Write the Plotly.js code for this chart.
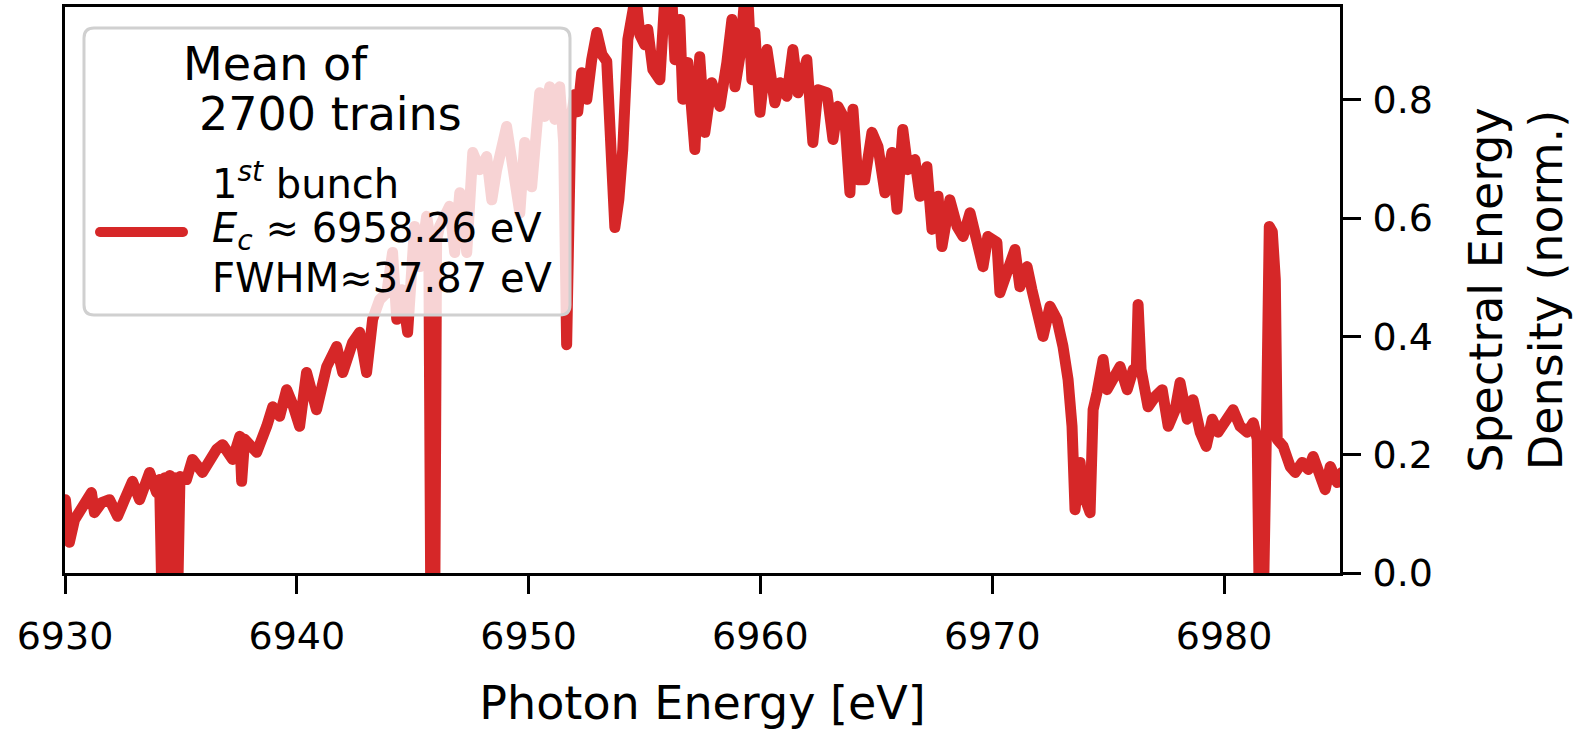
<!DOCTYPE html>
<html><head><meta charset="utf-8">
<script src="https://cdn.plot.ly/plotly-3.0.1.min.js"></script>
<style>
html,body{margin:0;padding:0;background:#fff}
#chart{width:1575px;height:734px}
path.js-line{stroke-linejoin:round!important;stroke-linecap:round!important}
.shapelayer path{stroke-linecap:round!important;stroke-linejoin:round!important}
</style>
</head><body><div id="chart"></div>
<script>
// Photon energy [eV]
const energy = [
 6930.02,6930.19,6930.41,6930.63,6930.88,6931.14,6931.27,6931.58,6931.92,6932.27,
 6932.57,6932.91,6933.22,6933.43,6933.65,6933.95,6934.08,6934.19,6934.30,6934.41,
 6934.52,6934.63,6934.74,6934.85,6934.96,6935.05,6935.24,6935.50,6935.93,6936.24,
 6936.54,6936.80,6937.23,6937.54,6937.62,6937.75,6938.27,6938.70,6938.96,6939.26,
 6939.56,6939.82,6940.12,6940.42,6940.85,6941.29,6941.72,6941.98,6942.28,6942.41,
 6942.71,6943.01,6943.27,6943.57,6943.88,6944.13,6944.31,6944.52,6944.78,6945.08,
 6945.30,6945.60,6945.69,6945.78,6945.95,6946.03,6946.16,6946.59,6946.81,6947.03,
 6947.33,6947.59,6947.89,6948.19,6948.41,6948.62,6949.05,6949.31,6949.62,6949.83,
 6950.13,6950.48,6950.69,6950.91,6951.13,6951.34,6951.51,6951.64,6951.82,6951.99,
 6952.12,6952.29,6952.51,6952.72,6952.94,6953.16,6953.37,6953.59,6953.72,6953.89,
 6954.06,6954.28,6954.45,6954.62,6954.80,6955.01,6955.14,6955.36,6955.66,6955.87,
 6956.18,6956.31,6956.52,6956.65,6956.87,6957.17,6957.38,6957.60,6957.90,6958.25,
 6958.55,6958.77,6958.90,6959.11,6959.33,6959.46,6959.63,6959.76,6959.98,6960.28,
 6960.62,6960.84,6961.14,6961.40,6961.62,6962.00,6962.26,6962.48,6962.87,6963.13,
 6963.34,6963.64,6963.86,6963.99,6964.20,6964.50,6964.81,6965.07,6965.37,6965.67,
 6965.89,6966.14,6966.36,6966.66,6966.88,6967.18,6967.40,6967.66,6967.83,6968.17,
 6968.48,6968.74,6969.04,6969.34,6969.60,6969.81,6970.20,6970.33,6970.68,6970.98,
 6971.19,6971.50,6971.71,6971.93,6972.19,6972.49,6972.79,6973.05,6973.27,6973.44,
 6973.57,6973.79,6973.91,6974.22,6974.35,6974.52,6974.78,6974.95,6975.21,6975.51,
 6975.82,6976.08,6976.21,6976.29,6976.42,6976.72,6977.02,6977.33,6977.59,6977.89,
 6978.10,6978.41,6978.66,6978.97,6979.23,6979.49,6979.74,6980.13,6980.39,6980.69,
 6981.00,6981.26,6981.43,6981.52,6981.69,6981.82,6981.95,6982.08,6982.21,6982.29,
 6982.55,6982.85,6983.07,6983.37,6983.63,6983.84,6984.15,6984.36,6984.58,6984.88,
 6985.09
];
// Spectral energy density (normalised)
const sed = [
 0.124,0.052,0.090,0.102,0.116,0.136,0.102,0.119,0.124,0.096,
 0.124,0.155,0.124,0.150,0.170,0.136,0.158,-0.062,0.161,-0.062,
 0.165,-0.062,0.161,-0.062,0.163,0.158,0.158,0.192,0.170,0.195,
 0.209,0.217,0.192,0.231,0.155,0.226,0.204,0.248,0.281,0.265,
 0.310,0.285,0.248,0.339,0.276,0.349,0.383,0.339,0.373,0.390,
 0.407,0.339,0.429,0.462,0.474,0.542,0.429,0.479,0.407,0.586,
 0.518,0.603,0.581,-0.062,-0.062,0.563,0.586,0.620,0.542,0.643,
 0.542,0.711,0.682,0.704,0.631,0.682,0.755,0.682,0.609,0.728,
 0.653,0.812,0.772,0.822,0.767,0.822,0.728,0.386,0.767,0.809,
 0.780,0.846,0.801,0.868,0.914,0.877,0.865,0.687,0.584,0.631,
 0.716,0.902,0.961,0.978,0.910,0.893,0.919,0.851,0.834,0.970,
 0.970,0.868,0.936,0.801,0.863,0.716,0.873,0.745,0.829,0.789,
 0.863,0.936,0.822,0.873,0.978,0.970,0.834,0.914,0.779,0.885,
 0.795,0.829,0.806,0.885,0.812,0.868,0.728,0.817,0.812,0.733,
 0.789,0.767,0.643,0.784,0.665,0.665,0.745,0.721,0.643,0.711,
 0.615,0.750,0.682,0.699,0.637,0.687,0.581,0.637,0.552,0.631,
 0.586,0.569,0.609,0.564,0.518,0.569,0.559,0.474,0.518,0.547,
 0.484,0.518,0.479,0.440,0.400,0.451,0.429,0.383,0.327,0.248,
 0.107,0.187,0.136,0.102,0.276,0.305,0.361,0.310,0.332,0.349,
 0.310,0.344,0.341,0.454,0.344,0.281,0.298,0.310,0.248,0.276,
 0.322,0.260,0.293,0.238,0.214,0.260,0.238,0.265,0.276,0.248,
 0.238,0.254,0.226,-0.062,-0.062,0.226,0.586,0.577,0.496,0.226,
 0.214,0.180,0.170,0.187,0.175,0.197,0.170,0.141,0.180,0.153,
 0.170
];
const xTickVals = [6930, 6940, 6950, 6960, 6970, 6980];
const yTickVals = [0.0, 0.2, 0.4, 0.6, 0.8];
const yTickText = ['0.0', '0.2', '0.4', '0.6', '0.8'];
const legendTitleLines = ['Mean of', '2700 trains'];
const legendEntryLines = ['1<sup><i>st</i></sup> bunch', '<i>E</i><sub><i>c</i></sub> ≈ 6958.26 eV', 'FWHM≈37.87 eV'];
const lineColor = '#d62728';

const W = 1575, H = 734, M = {l: 65, r: 235, t: 7, b: 161};
const pw = W - M.l - M.r, ph = H - M.t - M.b;
const PX = px => (px - M.l) / pw;
const PY = py => (H - M.b - py) / ph;
const FONT = 'DejaVu Sans, sans-serif';

function roundRect(x0, y0, x1, y1, r) {
  const p = (x, y) => PX(x).toFixed(5) + ',' + PY(y).toFixed(5);
  return 'M' + p(x0 + r, y0) + ' L' + p(x1 - r, y0) + ' Q' + p(x1, y0) + ' ' + p(x1, y0 + r) +
    ' L' + p(x1, y1 - r) + ' Q' + p(x1, y1) + ' ' + p(x1 - r, y1) +
    ' L' + p(x0 + r, y1) + ' Q' + p(x0, y1) + ' ' + p(x0, y1 - r) +
    ' L' + p(x0, y0 + r) + ' Q' + p(x0, y0) + ' ' + p(x0 + r, y0) + ' Z';
}

const trace = {
  x: energy, y: sed, type: 'scatter', mode: 'lines',
  line: {color: lineColor, width: 11},
  name: legendEntryLines.join('<br>'), showlegend: false, hoverinfo: 'skip'
};

const annotations = [];
const titleX = [181, 197];
const titleY = [64, 114];
legendTitleLines.forEach((t, i) => annotations.push({
  text: t, xref: 'paper', yref: 'paper', x: PX(titleX[i]), y: PY(titleY[i]),
  xanchor: 'left', yanchor: 'middle', showarrow: false,
  font: {family: FONT, size: 46, color: '#000'}
}));
const entryY = [181, 231, 278];
legendEntryLines.forEach((t, i) => annotations.push({
  text: t, xref: 'paper', yref: 'paper', x: PX(210), y: PY(entryY[i]),
  xanchor: 'left', yanchor: 'middle', showarrow: false,
  font: {family: FONT, size: 40, color: '#000'}
}));

const layout = {
  width: W, height: H,
  margin: M,
  paper_bgcolor: '#fff', plot_bgcolor: '#fff',
  font: {family: FONT, color: '#000'},
  showlegend: false,
  xaxis: {
    range: [6930, 6985], tickmode: 'array', tickvals: xTickVals,
    ticks: 'outside', ticklen: 18, tickwidth: 3, tickcolor: '#000',
    ticklabelstandoff: 9,
    showline: true, linecolor: '#000', linewidth: 3, mirror: true,
    showgrid: false, zeroline: false,
    tickfont: {family: FONT, size: 38, color: '#000'},
    title: {text: 'Photon Energy [eV]', font: {family: FONT, size: 46, color: '#000'}, standoff: 31}
  },
  yaxis: {
    range: [0, 0.957], side: 'right', tickmode: 'array', tickvals: yTickVals, ticktext: yTickText,
    ticks: 'outside', ticklen: 18, tickwidth: 3, tickcolor: '#000',
    ticklabelstandoff: 4,
    showline: true, linecolor: '#000', linewidth: 3, mirror: true,
    showgrid: false, zeroline: false,
    tickfont: {family: FONT, size: 38, color: '#000'},
    title: {text: 'Spectral Energy<br>Density (norm.)', font: {family: FONT, size: 46, color: '#000'}, standoff: 38}
  },
  shapes: [
    {type: 'path', xref: 'paper', yref: 'paper', layer: 'above',
     path: roundRect(84, 28, 570, 315, 10),
     fillcolor: 'rgba(255,255,255,0.8)', line: {color: '#d0d0d0', width: 3}},
    {type: 'line', xref: 'paper', yref: 'paper', layer: 'above',
     x0: PX(100), x1: PX(183), y0: PY(232), y1: PY(232),
     line: {color: lineColor, width: 10}}
  ],
  annotations: annotations
};

Plotly.newPlot('chart', [trace], layout, {displayModeBar: false, staticPlot: true});
</script>
</body></html>
